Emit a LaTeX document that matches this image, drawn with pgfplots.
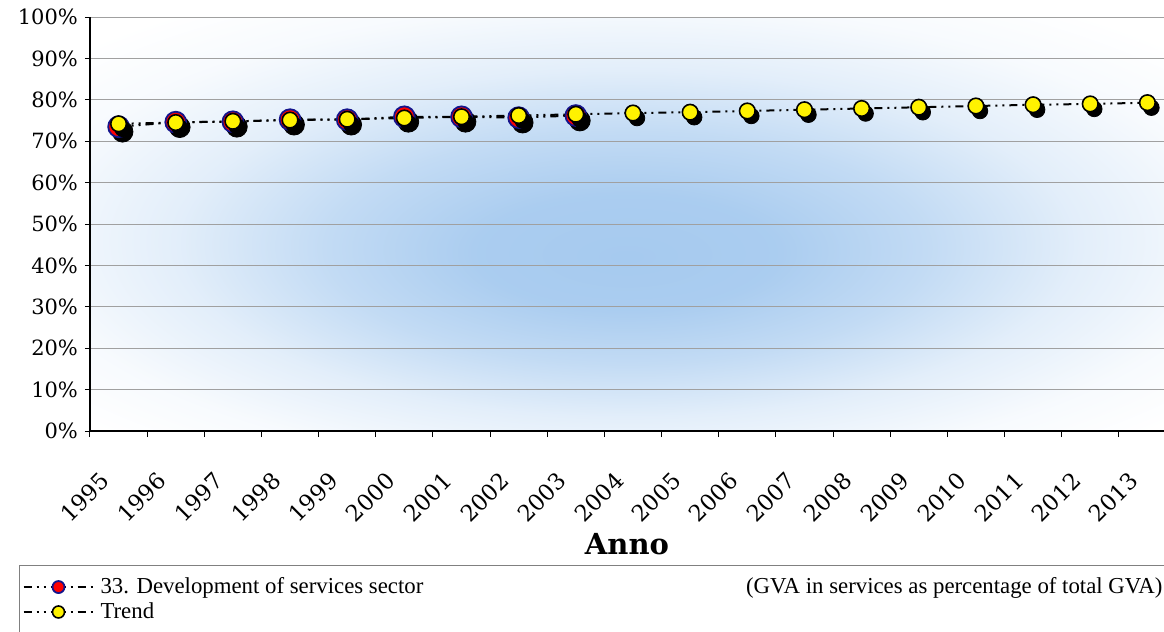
\documentclass[border=0pt]{standalone}
\usepackage{pgfplots}
\pgfplotsset{compat=1.18}
\usepackage{fontspec}
\setmainfont{DejaVu Serif}
\newfontfamily\legfont{Liberation Serif}
\definecolor{bgblue}{RGB}{166,202,239}
\definecolor{navyring}{RGB}{20,20,140}
\definecolor{gridgray}{RGB}{160,160,160}
\pgfdeclareradialshading{bgshade}{\pgfpoint{0bp}{-4bp}}{color(0bp)=(bgblue); color(7bp)=(bgblue!95!white); color(14bp)=(bgblue!68!white); color(21bp)=(bgblue!32!white); color(28bp)=(bgblue!9!white); color(34bp)=(white); color(50bp)=(white)}
\tikzset{dashdd/.style={line width=1pt, dash pattern=on 4pt off 2.5pt on 1pt off 2.5pt on 1pt off 2.5pt}}
\begin{document}
\begin{tikzpicture}
\begin{axis}[
  scale only axis, width=537pt, height=207pt,
  at={(0,0)}, anchor=south west,
  xmin=0, xmax=18.79, ymin=0, ymax=100,
  axis lines*=left,
  axis line style={line width=1pt, black},
  axis background/.style={shade, shading=bgshade},
  ymajorgrids, grid style={gridgray, line width=0.5pt},
  ytick={0,10,...,100},
  yticklabel={\pgfmathprintnumber{\tick}\%},
  /pgf/number format/assume math mode=true,
  xtick={0.5,1.5,...,18.5},
  xticklabels={1995,1996,1997,1998,1999,2000,2001,2002,2003,2004,2005,2006,2007,2008,2009,2010,2011,2012,2013},
  minor xtick={0,1,...,18},
  major x tick style={draw=none},
  tick align=outside,
  major tick length=2.5pt, minor tick length=3pt,
  tick style={black, line width=0.5pt},
  yticklabel style={font=\fontsize{10.5}{12}\selectfont},
  xticklabel style={font=\fontsize{11.3}{12}\selectfont, xshift=-4.3pt, yshift=-18pt, rotate=45, anchor=east},
  xlabel={Anno},
  xlabel style={font=\bfseries\fontsize{14.5}{16}\selectfont, at={(rel axis cs:0.5,-0.273)}, anchor=center},
  clip=false,
  legend style={at={(rel axis cs:-0.0661,-0.3237)}, anchor=north west,
    draw=gray, line width=0.5pt,
    font=\legfont\fontsize{11.4}{13}\selectfont,
    inner xsep=1.5pt, inner ysep=4pt, row sep=-1pt},
  legend cell align=left,
  legend image code/.code={\draw[mark repeat=2,mark phase=2,#1,mark size=3pt] plot coordinates {(0pt,0pt) (17.5pt,0pt) (36pt,0pt)};},
]
% shadow of data series
\addplot[forget plot, only marks, mark=*, mark size=5.2pt, mark options={fill=black, draw=black, xshift=2pt, yshift=-2.5pt}]
  coordinates {(0.5,73.5) (1.5,74.6) (2.5,74.7) (3.5,75.2) (4.5,75.2) (5.5,75.9) (6.5,75.9) (7.5,75.7) (8.5,76.2)};
\addplot[dashdd, mark=*, mark size=5.2pt, mark options={solid, fill=red, draw=navyring, line width=0.9pt}]
  coordinates {(0.5,73.5) (1.5,74.6) (2.5,74.7) (3.5,75.2) (4.5,75.2) (5.5,75.9) (6.5,75.9) (7.5,75.7) (8.5,76.2)};
\addlegendentry{\makebox[531pt][l]{33. Development of services sector\hfill(GVA in services as percentage of total GVA)}}
% shadow of trend
\addplot[forget plot, only marks, mark=*, mark size=3.9pt, mark options={fill=black, draw=black, xshift=2pt, yshift=-2.5pt}]
  coordinates {(0.5,74.2) (1.5,74.5) (2.5,74.8) (3.5,75.1) (4.5,75.3) (5.5,75.6) (6.5,75.9) (7.5,76.2) (8.5,76.5) (9.5,76.8) (10.5,77.0) (11.5,77.3) (12.5,77.6) (13.5,77.9) (14.5,78.2) (15.5,78.5) (16.5,78.8) (17.5,79.0) (18.5,79.3)};
\addplot[dashdd, mark=*, mark size=3.9pt, mark options={solid, fill=yellow, draw=black, line width=0.8pt}]
  coordinates {(0.5,74.2) (1.5,74.5) (2.5,74.8) (3.5,75.1) (4.5,75.3) (5.5,75.6) (6.5,75.9) (7.5,76.2) (8.5,76.5) (9.5,76.8) (10.5,77.0) (11.5,77.3) (12.5,77.6) (13.5,77.9) (14.5,78.2) (15.5,78.5) (16.5,78.8) (17.5,79.0) (18.5,79.3)};
\addlegendentry{Trend}
\end{axis}
\pgfresetboundingbox
\path[use as bounding box] (-45pt,-100.5pt) rectangle (537pt,215.5pt);
\end{tikzpicture}
\end{document}
